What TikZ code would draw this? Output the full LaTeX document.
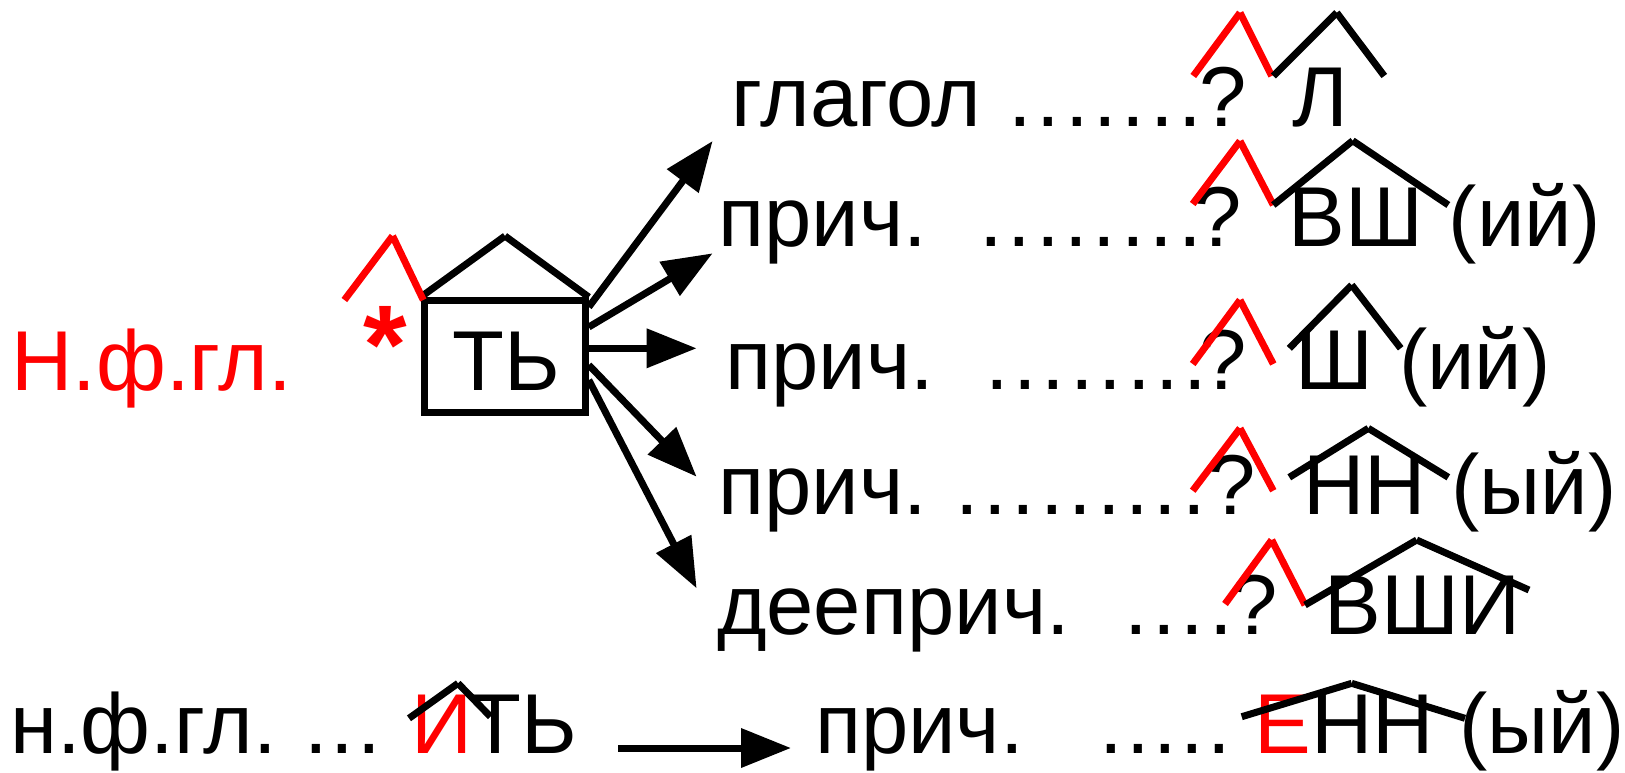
\documentclass[tikz,border=0pt]{standalone}
\usepackage{fontspec}
\setmainfont{Liberation Sans}
\usetikzlibrary{arrows.meta}
\definecolor{myred}{RGB}{255,0,0}
\newcommand\fsz{\fontsize{85pt}{100pt}\selectfont}
\newcommand\pd{.\kern4.8pt}
\newcommand\pe{.\kern3.5pt}
\newcommand\pf{.\kern2.9pt}
\begin{document}
\begin{tikzpicture}[x=1pt,y=-1pt,
  txt/.style={inner sep=0pt, outer sep=0pt, font=\fsz, anchor=base},
  dotrun/.style={txt, anchor=base west},
  hat/.style={line width=7pt},
  rhat/.style={hat, draw=myred},
  arr/.style={line width=7pt, -{Triangle[length=50pt,width=38pt]}},
  housebox/.style={draw, line width=7pt, minimum width=161pt, minimum height=112.3pt, inner sep=0pt, outer sep=3.5pt}]
\fill[white] (0,0) rectangle (1625,772);
\useasboundingbox (0,0) rectangle (1625,772);

% left part
\node[txt, text=myred] (nfg) at (151.5,390.7) {Н.ф.гл.};
\node[txt, text=myred, font=\fontsize{112pt}{120pt}\selectfont\bfseries] (ast) at (385,383) {*};
\node[housebox] (box) at (504.8,356.7) {};
\node[txt] (tb) at (506,390.7) {ТЬ};
\coordinate (roofp) at (505,236);
\draw[hat] (box.north west) -- (roofp);
\draw[hat] (roofp) -- (box.north east);
\coordinate (ra) at (344.4,300);
\coordinate (rp) at (392.6,236);
\coordinate (rb) at (423.3,300);
\draw[rhat] (ra) -- (rp);
\draw[rhat] (rp) -- (rb);

% arrows from the box
\coordinate (e1) at (712.6,141);
\coordinate (e2) at (712.6,253.3);
\coordinate (e3) at (696.6,348.3);
\coordinate (e4) at (696.6,476.7);
\coordinate (e5) at (696.6,588.3);
\draw[arr] ([yshift=49.7pt]box.east) -- (e1);
\draw[arr] ([yshift=29.7pt]box.east) -- (e2);
\draw[arr] ([yshift=8.4pt]box.east) -- (e3);
\draw[arr] ([yshift=-8.3pt]box.east) -- (e4);
\draw[arr] ([yshift=-23.3pt]box.east) -- (e5);

% row 1
\node[txt] (r1w) at (856.3,126) {глагол};
\node[dotrun] (r1d) at (1008.3,126) {\pd\pd\pd\pd\pd\pd.};
\node[txt] (r1q) at (1223,126) {?};
\node[txt] (r1l) at (1320.5,126.7) {Л};
\draw[rhat] (1193.3,76) -- (1240,12.7);
\draw[rhat] (1240,12.7) -- (1271.7,76);
\draw[hat] (1273.3,76) -- (1336.7,12.7);
\draw[hat] (1336.7,12.7) -- (1384.3,76);

% row 2
\node[txt] (r2w) at (823,246) {прич.};
\node[dotrun] (r2d) at (979.3,246) {\pd\pd\pd\pd\pd\pd\pd.};
\node[txt] (r2q) at (1218,246) {?};
\node[txt] (r2l) at (1356,246) {ВШ};
\node[txt] (r2e) at (1524.7,246) {(ий)};
\draw[rhat] (1192.7,204) -- (1240,141);
\draw[rhat] (1240,141) -- (1273.3,205);
\draw[hat] (1273.3,205) -- (1352.7,140.7);
\draw[hat] (1352.7,140.7) -- (1448.3,205);

% row 3
\node[txt] (r3w) at (830,389.3) {прич.};
\node[dotrun] (r3d) at (985,389.3) {\pd\pd\pd\pd\pd\pd\pd.};
\node[txt] (r3q) at (1223,389.3) {?};
\node[txt] (r3l) at (1334.7,389.3) {Ш};
\node[txt] (r3e) at (1474.8,389.3) {(ий)};
\draw[rhat] (1192.7,364) -- (1240,300);
\draw[rhat] (1240,300) -- (1273.3,364);
\draw[hat] (1289.3,348.3) -- (1351.7,285);
\draw[hat] (1351.7,285) -- (1400.7,348.3);

% row 4
\node[txt] (r4w) at (823,514) {прич.};
\node[dotrun] (r4d) at (955,514) {\pd\pd\pd\pd\pd\pd\pd\pd.};
\node[txt] (r4q) at (1232,514) {?};
\node[txt] (r4l) at (1364.7,514) {НН};
\node[txt] (r4e) at (1534,514) {(ый)};
\draw[rhat] (1192.7,490.7) -- (1240,428.3);
\draw[rhat] (1240,428.3) -- (1273.3,490.7);
\draw[hat] (1289.3,477.3) -- (1368.3,428.3);
\draw[hat] (1368.3,428.3) -- (1448.3,477.3);

% row 5
\node[txt] (r5w) at (893.5,634) {дееприч.};
\node[dotrun] (r5d) at (1124,634) {\pd\pd\pd.};
\node[txt] (r5q) at (1254,634) {?};
\node[txt] (r5l) at (1422.5,634) {ВШИ};
\draw[rhat] (1225,604) -- (1271.7,540);
\draw[rhat] (1271.7,540) -- (1305,605);
\draw[hat] (1305,605) -- (1416.7,540);
\draw[hat] (1416.7,540) -- (1529,590);

% row 6
\node[txt] (r6a) at (143.5,753) {н.ф.гл.};
\node[dotrun] (r6b) at (304,753) {\pf\pf.};
\node[txt, text=myred] (r6i) at (441.7,753) {И};
\node[txt] (r6t) at (523,753) {ТЬ};
\draw[hat] (409,718.3) -- (458,683.3);
\draw[hat] (458,683.3) -- (490.5,716.7);
\coordinate (a6s) at (618,748);
\coordinate (a6e) at (791,748);
\draw[arr] (a6s) -- (a6e);
\node[txt] (r6w) at (919.4,753) {прич.};
\node[dotrun] (r6d) at (1099,753) {\pe\pe\pe\pe.};
\node[txt, text=myred] (r6x) at (1283.3,753) {Е};
\node[txt] (r6l) at (1372.5,753) {НН};
\node[txt] (r6e) at (1542,753) {(ый)};
\draw[hat] (1241.7,716.7) -- (1351.7,683.3);
\draw[hat] (1351.7,683.3) -- (1465,718.3);
\end{tikzpicture}
\end{document}
